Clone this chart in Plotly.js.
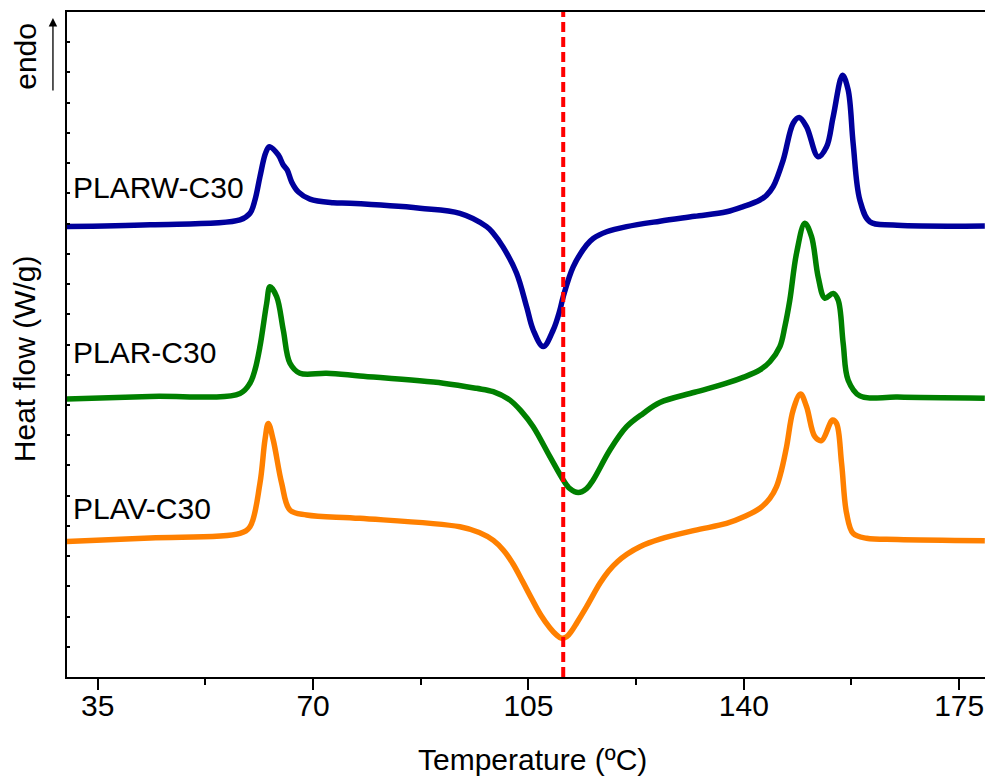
<!DOCTYPE html>
<html>
<head>
<meta charset="utf-8">
<script src="https://cdn.plot.ly/plotly-3.0.1.min.js"></script>
<style>html,body{margin:0;padding:0;background:#fff;}#chart{width:985px;height:776px;}</style>
</head>
<body>
<div id="chart"></div>
<script>
// Temperature (ºC) and heat flow (arbitrary, stacked)
const tempPLARW = [29.4, 43.5, 58.11, 59.74, 60.55, 61.36, 62.17, 62.71, 62.99, 64.34, 65.15, 65.8, 66.51, 67.59, 69.49, 73.27, 75.99, 87.36, 93.86, 98.2, 99.27, 100.85, 103.07, 104.7, 105.77, 107.4, 109.02, 110.11, 110.65, 112.27, 114.45, 115.52, 117.7, 120.95, 126.36, 132.0, 137.2, 139.9, 142.61, 143.7, 144.77, 146.4, 148.02, 149.0, 150.2, 152.08, 153.45, 154.52, 156.05, 156.96, 157.77, 158.86, 160.48, 164.27, 179.17];
const flowPLARW = [14.90, 14.96, 15.12, 15.34, 15.78, 16.55, 17.27, 17.52, 17.54, 17.27, 16.94, 16.77, 16.38, 16.05, 15.81, 15.69, 15.67, 15.51, 15.34, 14.90, 14.68, 14.23, 13.36, 12.25, 11.48, 10.93, 11.48, 12.14, 12.58, 13.57, 14.29, 14.51, 14.73, 14.90, 15.08, 15.24, 15.39, 15.56, 15.78, 15.94, 16.22, 17.10, 18.32, 18.51, 18.20, 17.21, 17.54, 18.53, 19.91, 19.42, 17.65, 15.78, 15.06, 14.95, 14.92];

const tempPLAR = [29.4, 43.5, 58.11, 59.74, 60.55, 61.36, 62.45, 62.99, 64.08, 65.15, 66.24, 67.86, 72.2, 77.61, 91.15, 96.57, 99.27, 101.99, 103.89, 105.77, 108.49, 110.65, 111.74, 113.09, 114.45, 115.52, 118.24, 120.95, 123.65, 126.36, 132.0, 137.2, 140.0, 142.61, 144.23, 145.86, 146.67, 147.48, 148.57, 149.92, 151.01, 152.08, 153.17, 154.52, 155.33, 156.15, 156.96, 158.86, 165.0, 179.17];
const flowPLAR = [9.19, 9.28, 9.38, 9.72, 10.16, 10.93, 12.36, 12.91, 12.58, 11.48, 10.38, 10.05, 10.05, 9.96, 9.72, 9.55, 9.44, 9.16, 8.78, 8.28, 7.29, 6.52, 6.23, 6.10, 6.23, 6.52, 7.51, 8.28, 8.72, 9.08, 9.42, 9.72, 9.92, 10.16, 10.43, 10.93, 11.59, 12.47, 14.02, 15.01, 14.57, 13.24, 12.53, 12.69, 12.47, 11.04, 9.82, 9.30, 9.26, 9.22];

const tempPLAV = [29.4, 43.5, 58.11, 59.74, 61.36, 62.17, 62.71, 63.52, 64.89, 66.24, 68.95, 77.61, 93.86, 97.0, 99.3, 101.0, 102.5, 104.0, 105.5, 107.0, 108.5, 109.5, 110.39, 111.2, 112.0, 112.82, 114.45, 116.61, 118.0, 119.5, 121.0, 123.11, 126.36, 132.0, 137.2, 140.0, 142.61, 144.23, 145.32, 146.13, 146.95, 148.02, 149.22, 150.2, 151.55, 152.64, 154.42, 155.07, 155.89, 156.7, 157.77, 159.95, 165.0, 179.17];
const flowPLAV = [4.48, 4.60, 4.75, 4.97, 6.41, 7.84, 8.39, 7.84, 6.41, 5.52, 5.36, 5.25, 4.97, 4.78, 4.52, 4.18, 3.74, 3.18, 2.60, 2.05, 1.62, 1.40, 1.28, 1.33, 1.52, 1.78, 2.33, 3.10, 3.50, 3.82, 4.06, 4.31, 4.56, 4.85, 5.08, 5.30, 5.58, 5.91, 6.30, 6.85, 7.62, 8.83, 9.36, 8.94, 7.95, 7.82, 8.50, 8.39, 7.07, 5.42, 4.75, 4.59, 4.55, 4.51];

const seriesNames = ["PLARW-C30", "PLAR-C30", "PLAV-C30"];
const seriesColors = ["#00009c", "#008000", "#ff8000"];
const dashTemp = [110.65, 110.65];
const dashFlow = [0, 22];
const xTickVals = [35, 70, 105, 140, 175];
const xTickText = ["35", "70", "105", "140", "175"];

const FONT = "Arial, 'Liberation Sans', sans-serif";

const temps = [tempPLARW, tempPLAR, tempPLAV];
const flows = [flowPLARW, flowPLAR, flowPLAV];

const traces = [];
for (let i = 0; i < 3; i++) {
  traces.push({
    x: temps[i], y: flows[i], type: "scatter", mode: "lines",
    name: seriesNames[i],
    line: {color: seriesColors[i], width: 5.5, shape: "spline", smoothing: 1.0},
    hoverinfo: "skip"
  });
}
traces.push({
  x: dashTemp, y: dashFlow, type: "scatter", mode: "lines",
  line: {color: "#ff0000", width: 4, dash: "10px,5px"},
  hoverinfo: "skip"
});

const labelY = [16.18, 10.75, 5.56];
const annotations = seriesNames.map((n, i) => ({
  text: n, x: 30.7, y: labelY[i], xref: "x", yref: "y",
  xanchor: "left", yanchor: "middle", showarrow: false,
  font: {family: FONT, size: 30, color: "#000"}
}));
annotations.push({
  text: "endo", xref: "paper", yref: "paper", x: -0.0455, y: 0.933,
  xanchor: "center", yanchor: "middle", textangle: -90, showarrow: false,
  font: {family: FONT, size: 30, color: "#000"}
});
annotations.push({
  text: "", xref: "paper", yref: "paper", x: -0.0153, y: 0.991,
  ax: 0, ay: 74, showarrow: true, arrowhead: 2, arrowsize: 1.3, arrowwidth: 1.3,
  arrowcolor: "#000"
});
annotations.push({
  text: "Heat flow (W/g)", xref: "paper", yref: "paper", x: -0.0468, y: 0.478,
  xanchor: "center", yanchor: "middle", textangle: -90, showarrow: false,
  font: {family: FONT, size: 30, color: "#000"}
});
annotations.push({
  text: "Temperature (ºC)", xref: "paper", yref: "paper", x: 0.5076, y: -0.1248,
  xanchor: "center", yanchor: "middle", showarrow: false,
  font: {family: FONT, size: 30, color: "#000"}
});

const layout = {
  width: 985, height: 776,
  margin: {l: 67, r: 0, t: 12, b: 99},
  paper_bgcolor: "#fff", plot_bgcolor: "#fff",
  showlegend: false,
  font: {family: FONT, color: "#000"},
  xaxis: {
    range: [30, 179.2], showgrid: false, zeroline: false,
    showline: true, linecolor: "#000", linewidth: 2, mirror: true,
    ticks: "outside", ticklen: 11, tickwidth: 2, tickcolor: "#000",
    tickmode: "array", tickvals: xTickVals, ticktext: xTickText,
    ticklabelstandoff: -10,
    tickfont: {family: FONT, size: 30, color: "#000"},
    minor: {tickvals: [52.5, 87.5, 122.5, 157.5], ticks: "outside", ticklen: 6, tickwidth: 2, tickcolor: "#000", showgrid: false}
  },
  yaxis: {
    range: [0, 22], showgrid: false, zeroline: false,
    showline: true, linecolor: "#000", linewidth: 2,
    ticks: "inside", ticklen: 3, tickwidth: 2, tickcolor: "#000",
    dtick: 1, tick0: 0, showticklabels: false
  },
  annotations: annotations
};

Plotly.newPlot("chart", traces, layout, {displayModeBar: false, staticPlot: true});
</script>
</body>
</html>
